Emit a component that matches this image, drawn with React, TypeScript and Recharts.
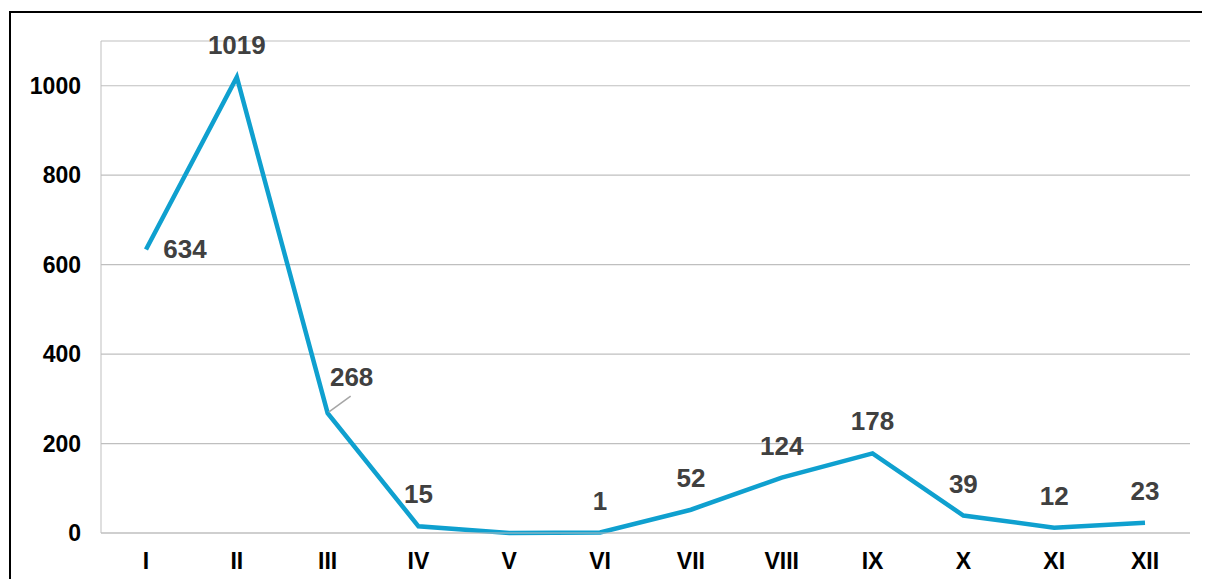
import React from "react"
import { LineChart, Line, XAxis, YAxis, CartesianGrid } from "recharts"

const months = ["I", "II", "III", "IV", "V", "VI", "VII", "VIII", "IX", "X", "XI", "XII"]
const counts = [634, 1019, 268, 15, 0, 1, 52, 124, 178, 39, 12, 23]
const yTicks = [0, 200, 400, 600, 800, 1000]

const data = months.map((m, i) => ({ month: m, value: counts[i] }))

const FONT = "'Liberation Sans', Arial, sans-serif"

// a few labels sit off the default spot above the point
const renderLabel = (props: any) => {
  const { x, y, value, index } = props
  if (value === 0) return null
  let lx = x
  let ly = y - 32
  let leader = null
  if (index === 0) {
    lx = x + 39
    ly = y
  } else if (index === 2) {
    lx = x + 24
    ly = y - 36
    leader = <line x1={x + 1} y1={y - 1} x2={x + 23} y2={y - 17} stroke="#a6a6a6" strokeWidth={1.5} />
  }
  return (
    <g key={`lbl-${index}`}>
      {leader}
      <text
        x={lx}
        y={ly}
        textAnchor="middle"
        dominantBaseline="central"
        fontFamily={FONT}
        fontWeight="bold"
        fontSize={26}
        fill="#404040"
      >
        {value}
      </text>
    </g>
  )
}

export default function App() {
  return (
    <div style={{ position: "relative", width: 1194, height: 571, background: "#fff" }}>
      <div style={{ position: "absolute", left: 1, top: 3, width: 1193, height: 2, background: "#000" }} />
      <div style={{ position: "absolute", left: 1, top: 3, width: 2, height: 568, background: "#000" }} />
      <LineChart
        width={1194}
        height={571}
        data={data}
        margin={{ top: 33, right: 12, bottom: 0, left: 0 }}
        style={{ position: "absolute", left: 0, top: 0 }}
      >
        <CartesianGrid vertical={false} stroke="#bfbfbf" strokeWidth={1.2} />
        <XAxis
          dataKey="month"
          height={46}
          padding={{ left: 45, right: 45 }}
          axisLine={{ stroke: "#bfbfbf" }}
          tickLine={false}
          tickMargin={14}
          tick={{ fontFamily: FONT, fontWeight: "bold", fontSize: 23, fill: "#000" }}
          interval={0}
        />
        <YAxis
          width={93}
          domain={[0, 1100]}
          ticks={yTicks}
          axisLine={{ stroke: "#bfbfbf" }}
          tickLine={false}
          tickMargin={14}
          tick={{ fontFamily: FONT, fontWeight: "bold", fontSize: 23, fill: "#000" }}
        />
        <Line
          type="linear"
          dataKey="value"
          stroke="#0fa0cf"
          strokeWidth={4.5}
          dot={false}
          activeDot={false}
          isAnimationActive={false}
          label={renderLabel}
        />
      </LineChart>
    </div>
  )
}
